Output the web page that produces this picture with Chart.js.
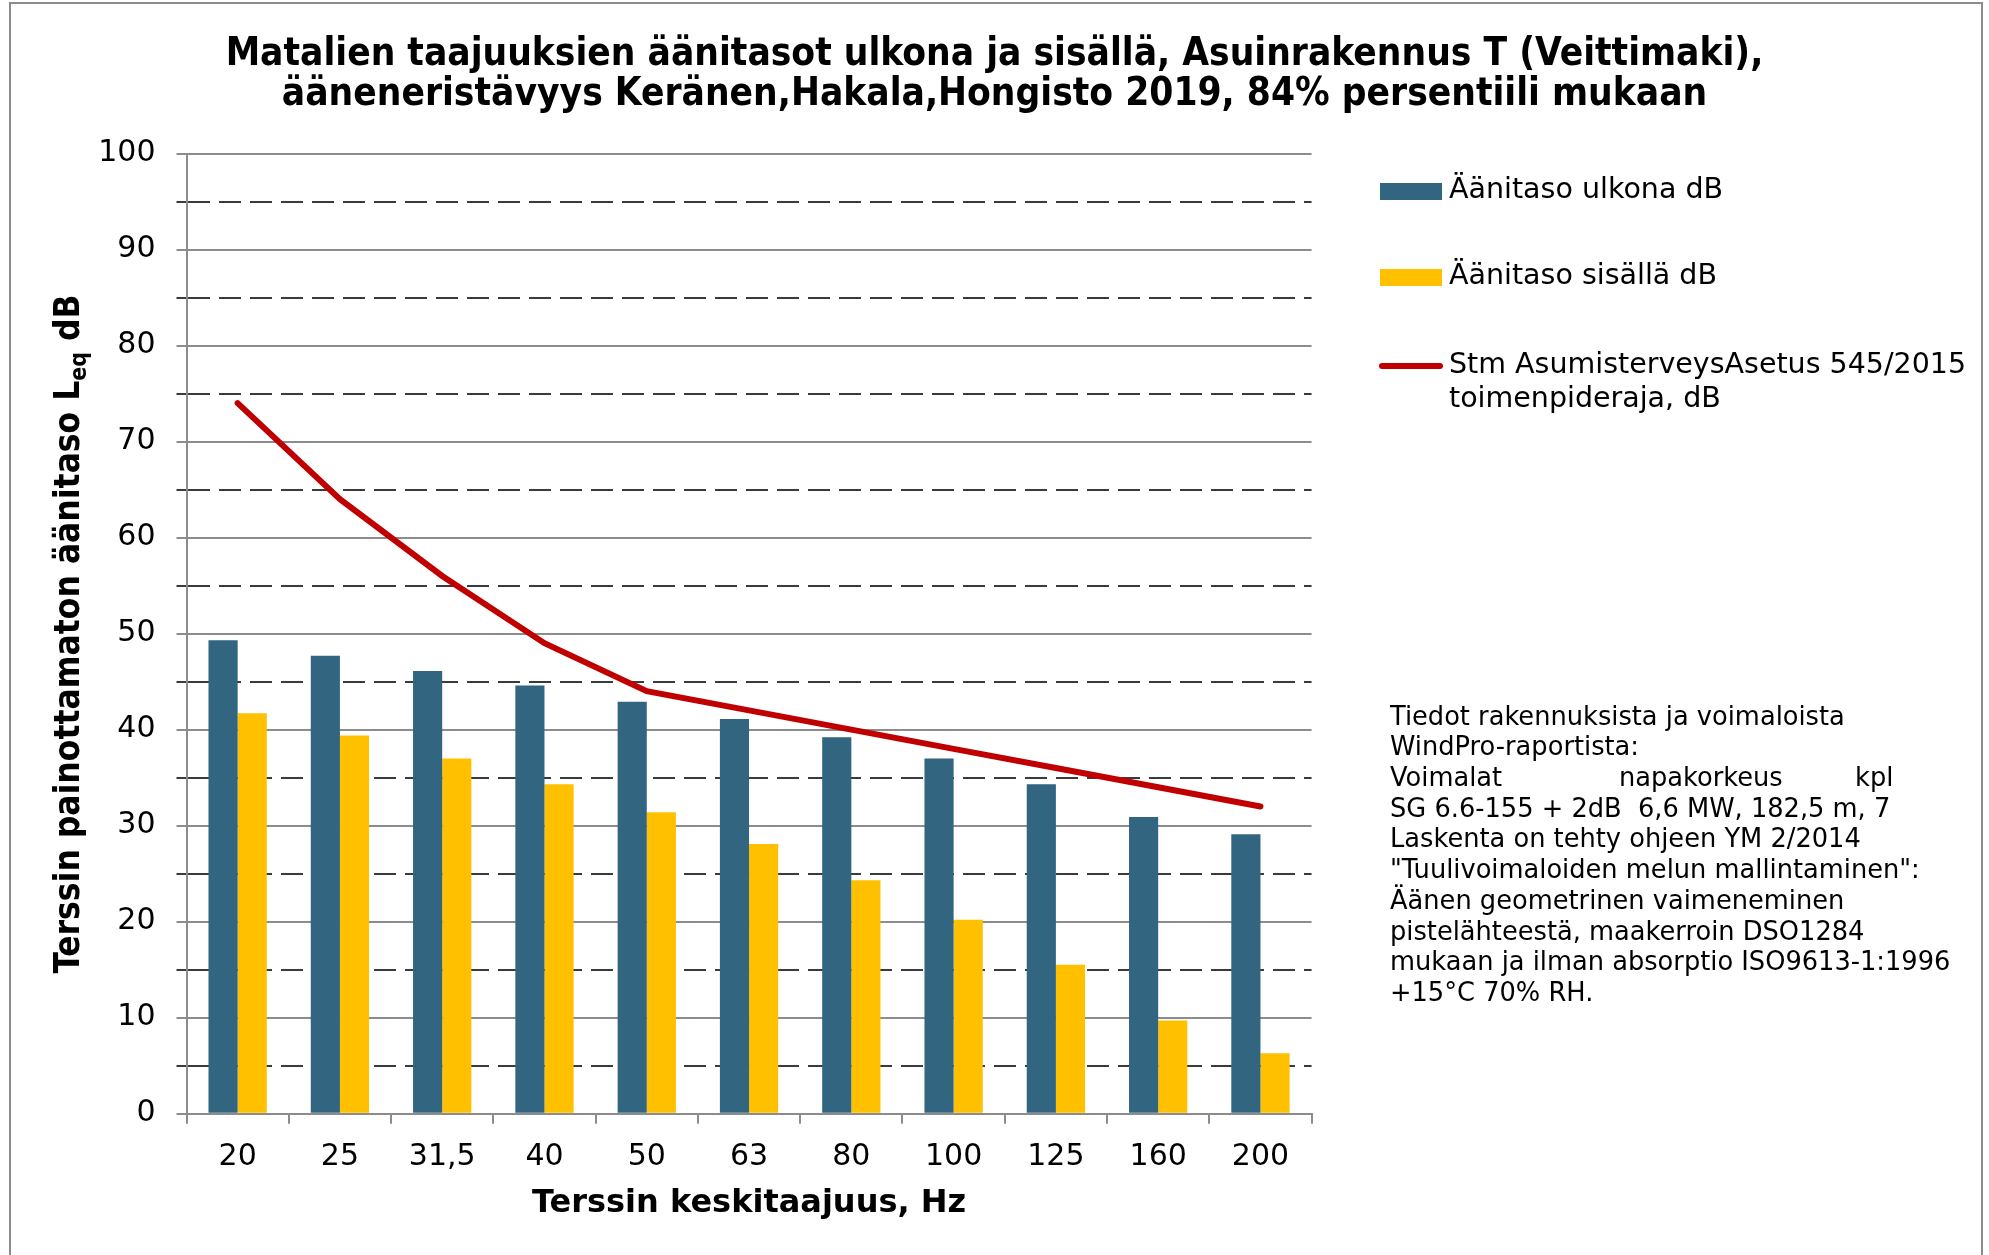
<!DOCTYPE html>
<html><head><meta charset="utf-8">
<script src="https://cdn.jsdelivr.net/npm/chart.js@4"></script>
<style>
html,body{margin:0;padding:0;background:#fff;}
#wrap{position:relative;width:1989px;height:1255px;overflow:hidden;}
#frame{position:absolute;left:9px;top:2px;width:1974px;height:1300px;border:2px solid #8c8c8c;box-sizing:border-box;}
canvas{position:absolute;left:0;top:0;}
</style></head>
<body><div id="wrap"><div id="frame"></div><canvas id="c" width="1989" height="1255"></canvas></div>
<script>
const categories = ['20','25','31,5','40','50','63','80','100','125','160','200'];
const outdoorLevels = [49.3,47.7,46.1,44.6,42.9,41.1,39.2,37.0,34.3,30.9,29.1];
const indoorLevels  = [41.7,39.4,37.0,34.3,31.4,28.1,24.3,20.2,15.5,9.7,6.3];
const limitLevels   = [74,64,56,49,44,42,40,38,36,34,32];
const seriesLabels = ['Äänitaso ulkona dB','Äänitaso sisällä dB','Stm AsumisterveysAsetus 545/2015\ntoimenpideraja, dB'];
const titleLines = ['Matalien taajuuksien äänitasot ulkona ja sisällä, Asuinrakennus T (Veittimaki),','ääneneristävyys Keränen,Hakala,Hongisto 2019, 84% persentiili mukaan'];
const xTitle = 'Terssin keskitaajuus, Hz';
const yTitleParts = ['Terssin painottamaton äänitaso L','eq',' dB'];
const yMin = 0, yMax = 100, yStep = 5, yLabelStep = 10;
const noteLines = [
 ['Tiedot rakennuksista ja voimaloista'],
 ['WindPro-raportista:'],
 ['Voimalat','napakorkeus','kpl'],
 ['SG 6.6-155 + 2dB  6,6 MW, 182,5 m, 7'],
 ['Laskenta on tehty ohjeen YM 2/2014'],
 ['"Tuulivoimaloiden melun mallintaminen":'],
 ['Äänen geometrinen vaimeneminen'],
 ['pistelähteestä, maakerroin DSO1284'],
 ['mukaan ja ilman absorptio ISO9613-1:1996'],
 ['+15°C 70% RH.']
];

const BLUE='#316580', YELLOW='#FFC000', RED='#C00000';
const FONT='"DejaVu Sans", Verdana, sans-serif';
const FONTC='"DejaVu Sans Condensed", "DejaVu Sans", sans-serif';

const extras = {
  id:'extras',
  afterDraw(chart){
    const ctx = chart.ctx;
    ctx.save();
    // y axis title with subscript
    ctx.translate(70, 634);
    ctx.rotate(-Math.PI/2);
    ctx.fillStyle='#000';
    ctx.textBaseline='middle';
    const fMain='bold 35px '+FONTC, fSub='bold 23px '+FONTC;
    ctx.font=fMain; const w0=ctx.measureText(yTitleParts[0]).width, w2=ctx.measureText(yTitleParts[2]).width;
    ctx.font=fSub; const w1=ctx.measureText(yTitleParts[1]).width;
    let x=-(w0+w1+w2)/2;
    ctx.font=fMain; ctx.textAlign='left'; ctx.fillText(yTitleParts[0],x,0); x+=w0;
    ctx.font=fSub; ctx.fillText(yTitleParts[1],x,10); x+=w1;
    ctx.font=fMain; ctx.fillText(yTitleParts[2],x,0);
    ctx.restore();

    // legend
    ctx.save();
    const ys=[191,277,366];
    ctx.font='28.5px '+FONT; ctx.textBaseline='middle'; ctx.textAlign='left';
    chart.data.datasets.forEach((ds,i)=>{
      const y=ys[i];
      if(ds.type==='line'){
        ctx.strokeStyle=ds.borderColor; ctx.lineWidth=6; ctx.lineCap='round';
        ctx.beginPath(); ctx.moveTo(1382,y); ctx.lineTo(1440,y); ctx.stroke();
      } else {
        ctx.fillStyle=ds.backgroundColor; ctx.fillRect(1380,y-8,62,17);
      }
      ctx.fillStyle='#000';
      ds.label.split('\n').forEach((t,k)=>ctx.fillText(t,1449,y+k*34));
    });
    ctx.restore();

    // note text
    ctx.save();
    ctx.font='25.7px '+FONT; ctx.fillStyle='#000'; ctx.textBaseline='middle'; ctx.textAlign='left';
    const colX=[1390,1619,1855];
    noteLines.forEach((parts,i)=>{
      const y=718+i*30.7;
      parts.forEach((t,k)=>ctx.fillText(t,colX[k],y));
    });
    ctx.restore();
  }
};

new Chart(document.getElementById('c'), {
  data:{
    labels:categories,
    datasets:[
      {type:'bar',label:seriesLabels[0],data:outdoorLevels,backgroundColor:BLUE,categoryPercentage:0.57,barPercentage:1,order:1},
      {type:'bar',label:seriesLabels[1],data:indoorLevels,backgroundColor:YELLOW,categoryPercentage:0.57,barPercentage:1,order:1},
      {type:'line',label:seriesLabels[2],data:limitLevels,borderColor:RED,backgroundColor:RED,borderWidth:6,pointRadius:0,tension:0,borderCapStyle:'round',order:0}
    ]
  },
  options:{
    responsive:false, animation:false, devicePixelRatio:1,
    layout:{padding:0},
    plugins:{
      legend:{display:false}, tooltip:{enabled:false},
      title:{display:true,text:titleLines,color:'#000',font:{family:FONTC,weight:'bold',size:38.5,lineHeight:40/38.5},padding:{top:35,bottom:38.5}}
    },
    scales:{
      x:{
        offset:true,
        afterFit(s){s.height=141.3;},
        grid:{display:true,drawOnChartArea:false,drawTicks:true,tickLength:10,tickColor:'#8c8c8c',offset:true,lineWidth:2},
        border:{display:true,color:'#8c8c8c',width:2},
        ticks:{color:'#000',font:{family:FONT,size:30},padding:16,maxRotation:0,autoSkip:false},
        title:{display:true,text:xTitle,color:'#000',font:{family:FONT,weight:'bold',size:32},padding:{top:0,bottom:32}}
      },
      y:{
        min:yMin,max:yMax,
        afterFit(s){s.width=186.5;},
        afterBuildTicks(s){ s.ticks=[]; for(let v=yMin; v<=yMax; v+=yStep) s.ticks.push({value:v}); },
        ticks:{stepSize:yStep,color:'#000',font:{family:FONT,size:30},padding:21,
          callback:(v)=> (v % yLabelStep === 0 ? String(v) : '')},
        grid:{
          color:(c)=> (c.tick && c.tick.value % yLabelStep !== 0 ? '#3a3a3a' : '#8c8c8c'),
          tickColor:(c)=> (c.tick && c.tick.value % yLabelStep !== 0 ? '#3a3a3a' : '#8c8c8c'),
          lineWidth:2, tickLength:10
        },
        border:{display:true,color:'#8c8c8c',width:2,
          dash:(c)=> (c.tick && c.tick.value % yLabelStep !== 0 ? [22,9] : [])}
      },
      yRight:{
        position:'right', display:true,
        afterFit(s){s.width=1989-1311.6;},
        ticks:{display:false}, grid:{display:false,drawTicks:false}, border:{display:false}
      }
    }
  },
  plugins:[extras]
});
</script>
</body></html>
